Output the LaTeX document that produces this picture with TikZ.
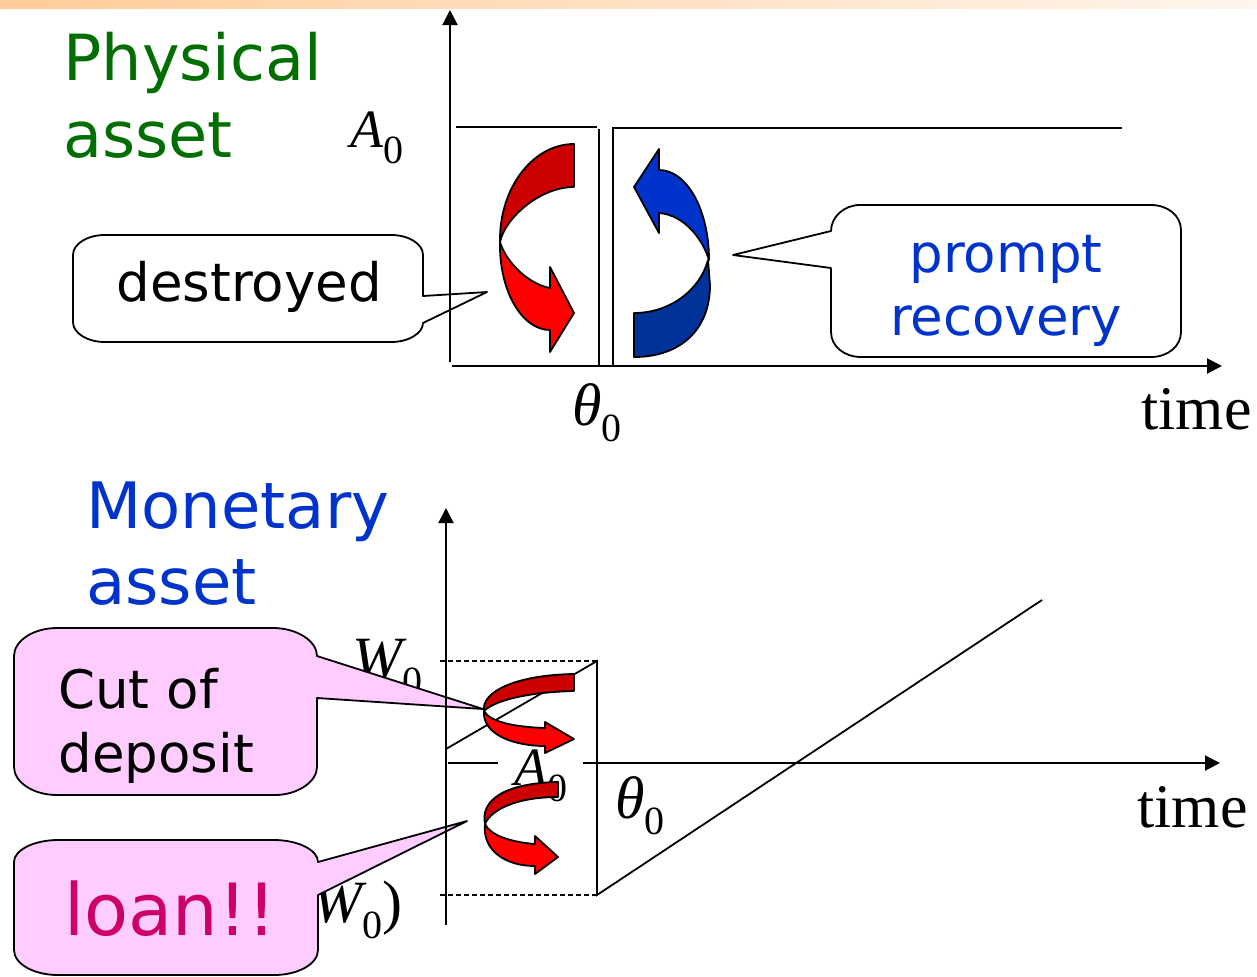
\documentclass[tikz,border=0pt]{standalone}
\usepackage{fontspec}
\setmainfont{DejaVu Sans}
\newfontfamily\tms{Liberation Serif}
\usetikzlibrary{arrows.meta}

\definecolor{physgreen}{RGB}{0,110,0}
\definecolor{monblue}{RGB}{0,51,204}
\definecolor{loanred}{RGB}{204,0,102}
\definecolor{bubblepink}{RGB}{255,204,255}
\definecolor{darkred}{RGB}{204,0,0}
\definecolor{darkblue}{RGB}{0,51,153}
\definecolor{barorange}{RGB}{255,204,153}
\definecolor{barpale}{RGB}{255,245,236}

% italic symbol with a lowered index
\newcommand{\varlbl}[3]{{\tms\itshape\fontsize{#1}{#1}\selectfont #2}{\tms\fontsize{20}{20}\selectfont\raisebox{-8pt}{#3}}}

\begin{document}
\begin{tikzpicture}[x=0.5pt,y=-0.5pt,
    axis/.style={line width=1pt,-{Triangle[length=7.5pt,width=7.5pt]}},
    curve/.style={line width=0.9pt},
    guide/.style={line width=0.7pt,dash pattern=on 2.5pt off 1.5pt},
    bubble/.style={draw=black,line width=0.9pt,fill=white,line join=round},
    band/.style={draw=black,line width=0.9pt,line join=round},
    lbl/.style={anchor=base west,inner sep=0pt},
    title/.style={anchor=north west,inner sep=0pt,align=left,font=\fontsize{31.8}{38.5}\selectfont},
    say/.style={inner sep=0pt,font=\fontsize{26.5}{32}\selectfont}]
  \useasboundingbox (0,0) rectangle (1257,976);
  \clip (0,0) rectangle (1257,976);
  \shade[left color=barorange,right color=barpale] (0,0) rectangle (1257,8); % title bar

  % ---- physical asset ----
  \node[title,text=physgreen] (physical) at (63,32) {Physical\\asset};
  \coordinate (destroyTip) at (487,292);
  \coordinate (promptTip) at (733,255);
  \draw[bubble] (105,235) -- (391,235) .. controls (409,235) and (423,244) .. (423,255)
    -- (423,296) -- (destroyTip) -- (423,323) .. controls (423,333) and (409,342) .. (391,342)
    -- (105,342) .. controls (87,342) and (73,333) .. (73,322) -- (73,255)
    .. controls (73,244) and (87,235) .. (105,235) -- cycle; % callout destroyed
  \node[say,anchor=base west] (destroyed) at (116,301) {destroyed};
  \draw[bubble] (860,205) -- (1151,205) .. controls (1168,205) and (1181,216) .. (1181,230)
    -- (1181,332) .. controls (1181,346) and (1168,357) .. (1151,357)
    -- (861,357) .. controls (844,357) and (831,346) .. (831,332) -- (831,268)
    -- (promptTip) -- (831,231) .. controls (831,217) and (844,205) .. (860,205) -- cycle; % callout recovery
  \node[say,anchor=north,align=center,text=monblue,font=\fontsize{26.5}{31.5}\selectfont] (recovery) at (1006,235) {prompt\\recovery};

  \draw[axis] (450,362) -- (450,10);
  \draw[axis] (452,366) -- (1222,366);
  \draw[curve] (456,127) -- (597,127); % level before the shock
  \draw[curve] (599,129) -- (599,365); % drop
  \draw[curve] (613,365) -- (613,128) -- (1122,128); % recovery
  \node[lbl] (Azero) at (350,147) {\varlbl{27}{A}{0}};
  \node[lbl] (thetaP) at (572,425) {\varlbl{30}{θ}{0}};
  \node[lbl,font=\tms\fontsize{31}{31}\selectfont] (timeP) at (1141,429) {time};

  % red arrow: loss
  \draw[band,fill=darkred] (574,144) -- (574,187) .. controls (540,187) and (505,218) .. (500,242)
    .. controls (499,188) and (533,144) .. (574,144) -- cycle;
  \draw[band,fill=red] (500,242) .. controls (499,291) and (522,330) .. (550,330) -- (550,352)
    -- (574,313) -- (550,267) -- (550,288) .. controls (528,284) and (506,262) .. (500,242) -- cycle;
  % blue arrow: recovery
  \draw[band,fill=darkblue] (708,260) -- (710,285) .. controls (710,330) and (680,357) .. (634,357)
    -- (634,313) .. controls (670,313) and (700,290) .. (708,260) -- cycle;
  \draw[band,fill=monblue] (659,170) .. controls (687,170) and (709,210) .. (709,260)
    .. controls (703,240) and (685,215) .. (659,213) -- (659,233) -- (634,187) -- (659,149) -- cycle;

  % ---- monetary asset ----
  \node[title,text=monblue,font=\fontsize{32}{38}\selectfont] (monetary) at (86,481) {Monetary\\asset};
  \node[lbl] (Wtop) at (352,678) {\varlbl{30}{W}{0}};
  \node[lbl] (Wbot) at (292,922) {{\tms\fontsize{30}{30}\selectfont(}\varlbl{30}{W}{0}{\tms\fontsize{30}{30}\selectfont)}};
  \coordinate (cutTip) at (483,709);
  \coordinate (loanTip) at (467,821);
  \draw[bubble,fill=bubblepink] (57,628) -- (273,628) .. controls (297,628) and (317,641) .. (317,656)
    -- (cutTip) -- (317,698) -- (317,767) .. controls (317,782) and (297,795) .. (275,795)
    -- (57,795) .. controls (33,795) and (14,782) .. (14,767) -- (14,656)
    .. controls (14,641) and (33,628) .. (57,628) -- cycle; % callout deposit
  \node[say,anchor=north west,align=left] (deposit) at (58,668) {Cut of\\deposit};
  \draw[bubble,fill=bubblepink] (58,840) -- (274,840) .. controls (298,840) and (318,850) .. (318,862)
    -- (loanTip) -- (318,895) -- (318,950) .. controls (318,964) and (298,975) .. (274,975)
    -- (58,975) .. controls (34,975) and (14,964) .. (14,950) -- (14,862)
    .. controls (14,850) and (34,840) .. (58,840) -- cycle; % callout loan
  \node[lbl,text=loanred,font=\fontsize{36}{36}\selectfont] (loan) at (64,935) {loan!!};

  \draw[guide] (440,661) -- (597,661);
  \draw[guide] (440,895) -- (597,895);
  \draw[axis] (446,925) -- (446,508);
  \draw[axis] (448,763) -- (1220,763);
  \draw[curve] (446,749) -- (597,661) -- (597,895) -- (1042,600); % wealth path
  \node[anchor=base west,fill=white,inner xsep=8pt,inner ysep=2pt] (Amon) at (498,785) {\varlbl{27}{A}{0}};
  \node[lbl] (thetaM) at (615,818) {\varlbl{30}{θ}{0}};
  \node[lbl,font=\tms\fontsize{31}{31}\selectfont] (timeM) at (1137,827) {time};

  % red arrows: deposit cut and loan
  \draw[band,fill=darkred] (574,674) -- (574,691) .. controls (530,692) and (495,700) .. (484,711)
    .. controls (481,692) and (515,675) .. (574,674) -- cycle;
  \draw[band,fill=red] (484,711) .. controls (482,735) and (515,746) .. (545,746) -- (545,753)
    -- (574,739) -- (545,722) -- (545,728) .. controls (515,727) and (490,722) .. (484,711) -- cycle;
  \draw[band,fill=darkred] (558,782) -- (558,797) .. controls (520,797) and (492,808) .. (485,824)
    .. controls (480,800) and (505,783) .. (558,782) -- cycle;
  \draw[band,fill=red] (485,824) .. controls (482,850) and (505,866) .. (535,866) -- (535,874)
    -- (558,857) -- (535,836) -- (535,844) .. controls (510,842) and (490,835) .. (485,824) -- cycle;
\end{tikzpicture}
\end{document}
